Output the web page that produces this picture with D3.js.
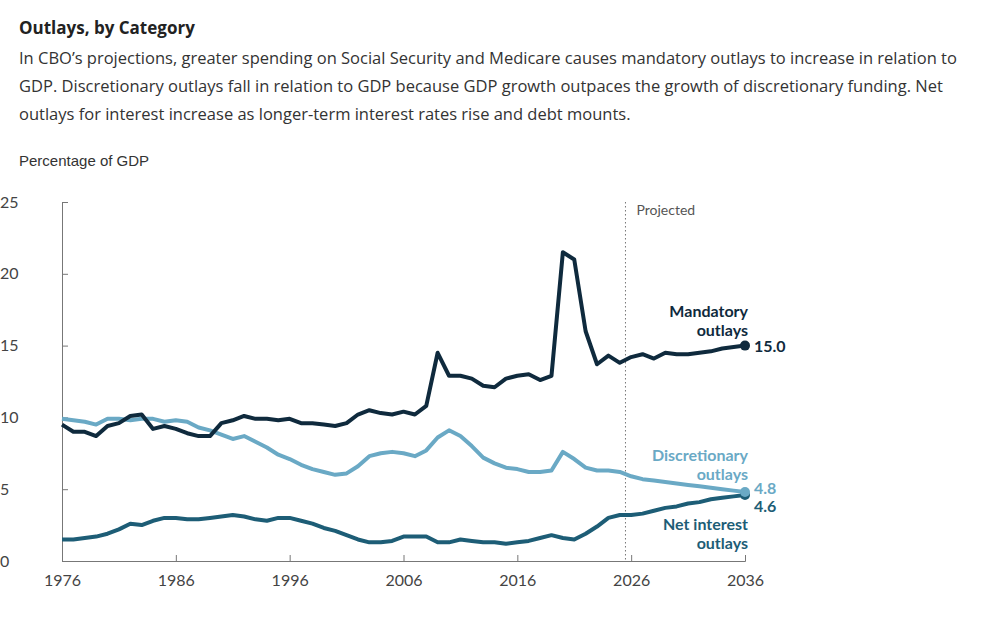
<!DOCTYPE html>
<html lang="en">
<head>
<meta charset="UTF-8">
<title>Outlays, by Category</title>
<style>
  body { margin: 0; background: #fff; font-family: "Source Sans Pro", "Open Sans", Lato, sans-serif; }
  .title { font-weight: bold; font-size: 17px; fill: #222; }
  .sub { font-size: 16.5px; fill: #333; }
  .axis text { font-family: Lato, "Open Sans", sans-serif; font-size: 16px; fill: #444; }
  .axis path, .axis line { stroke: #777; }
  .line { fill: none; stroke-width: 4px; stroke-linejoin: round; }
  .lbl { font-family: Lato, sans-serif; font-weight: bold; font-size: 16px; }
</style>
</head>
<body>
<script src="https://d3js.org/d3.v7.min.js"></script>
<script>
const years = d3.range(1976, 2037)
const mandatory = [9.5,9.0,9.0,8.7,9.4,9.6,10.1,10.2,9.2,9.4,9.2,8.9,8.7,8.7,9.6,9.8,10.1,9.9,9.9,9.8,9.9,9.6,9.6,9.5,9.4,9.6,10.2,10.5,10.3,10.2,10.4,10.2,10.8,14.5,12.9,12.9,12.7,12.2,12.1,12.7,12.9,13.0,12.6,12.9,21.5,21.0,16.0,13.7,14.3,13.8,14.2,14.4,14.1,14.5,14.4,14.4,14.5,14.6,14.8,14.9,15.0]
const discretionary = [9.9,9.8,9.7,9.5,9.9,9.9,9.8,9.9,9.9,9.7,9.8,9.7,9.3,9.1,8.8,8.5,8.7,8.3,7.9,7.4,7.1,6.7,6.4,6.2,6.0,6.1,6.6,7.3,7.5,7.6,7.5,7.3,7.7,8.6,9.1,8.7,8.0,7.2,6.8,6.5,6.4,6.2,6.2,6.3,7.6,7.1,6.5,6.3,6.3,6.2,5.9,5.7,5.6,5.5,5.4,5.3,5.2,5.1,5.0,4.9,4.8]
const netInterest = [1.5,1.5,1.6,1.7,1.9,2.2,2.6,2.5,2.8,3.0,3.0,2.9,2.9,3.0,3.1,3.2,3.1,2.9,2.8,3.0,3.0,2.8,2.6,2.3,2.1,1.8,1.5,1.3,1.3,1.4,1.7,1.7,1.7,1.3,1.3,1.5,1.4,1.3,1.3,1.2,1.3,1.4,1.6,1.8,1.6,1.5,1.9,2.4,3.0,3.2,3.2,3.3,3.5,3.7,3.8,4.0,4.1,4.3,4.4,4.5,4.6]
const xTicks = [1976, 1986, 1996, 2006, 2016, 2026, 2036]
const yTicks = [0, 5, 10, 15, 20, 25]

const svg = d3.select('body').append('svg').attr('width', 1007).attr('height', 643)

svg.append('text').attr('class', 'title').attr('x', 19).attr('y', 34).text('Outlays, by Category')
;['In CBO’s projections, greater spending on Social Security and Medicare causes mandatory outlays to increase in relation to',
  'GDP. Discretionary outlays fall in relation to GDP because GDP growth outpaces the growth of discretionary funding. Net',
  'outlays for interest increase as longer-term interest rates rise and debt mounts.']
  .forEach((t, i) => svg.append('text').attr('class', 'sub').attr('x', 19).attr('y', 64 + i * 28).text(t))
svg.append('text').attr('x', 19).attr('y', 166).attr('font-family', 'Liberation Sans, Arial, sans-serif')
  .attr('font-size', 15).attr('fill', '#333').text('Percentage of GDP')

const x = d3.scaleLinear().domain([1976, 2036]).range([62, 745])
const y = d3.scaleLinear().domain([0, 25]).range([561, 202])

svg.append('g').attr('class', 'axis').attr('transform', 'translate(0,561)')
  .call(d3.axisBottom(x).tickValues(xTicks).tickFormat(d3.format('d')).tickSizeOuter(0).tickSize(-6).tickPadding(14))
svg.append('g').attr('class', 'axis').attr('transform', 'translate(62,0)')
  .call(d3.axisLeft(y).tickValues(yTicks).tickSizeOuter(0).tickSize(-6).tickPadding(22))
  .call(g => g.selectAll('text').attr('text-anchor', 'start').attr('dx', -40))

// projection divider
svg.append('line').attr('x1', x(2025.5)).attr('x2', x(2025.5)).attr('y1', 202).attr('y2', 561)
  .attr('stroke', '#777').attr('stroke-dasharray', '1.5,2.5')
svg.append('text').attr('x', x(2025.5) + 11).attr('y', 215).attr('font-family', 'Lato, sans-serif')
  .attr('font-size', 14).attr('fill', '#555').text('Projected')

const series = [
  { name: 'netInterest', values: netInterest, color: '#1d5d76' },
  { name: 'discretionary', values: discretionary, color: '#6aa9c5' },
  { name: 'mandatory', values: mandatory, color: '#0f2a3d' }
]
const line = d3.line().x((d, i) => x(years[i])).y(d => y(d))
series.forEach(s => {
  svg.append('path').attr('class', 'line').attr('stroke', s.color).attr('d', line(s.values))
  const last = s.values[s.values.length - 1]
  svg.append('circle').attr('cx', x(2036)).attr('cy', y(last)).attr('r', 5).attr('fill', s.color)
})

function label(lines, color, x0, y0) {
  lines.forEach((t, i) => svg.append('text').attr('class', 'lbl').attr('fill', color)
    .attr('text-anchor', 'end').attr('x', x0).attr('y', y0 + i * 19).text(t))
}
label(['Mandatory', 'outlays'], '#0f2a3d', 748, 317)
label(['Discretionary', 'outlays'], '#6aa9c5', 748, 461)
label(['Net interest', 'outlays'], '#1d5d76', 748, 530)
const vlab = (t, c, yy) => svg.append('text').attr('class', 'lbl').attr('font-weight', 'normal')
  .attr('fill', c).attr('x', 754).attr('y', yy).text(t)
vlab('15.0', '#0f2a3d', 352)
vlab('4.8', '#6aa9c5', 494)
vlab('4.6', '#1d5d76', 512)
</script>
</body>
</html>
